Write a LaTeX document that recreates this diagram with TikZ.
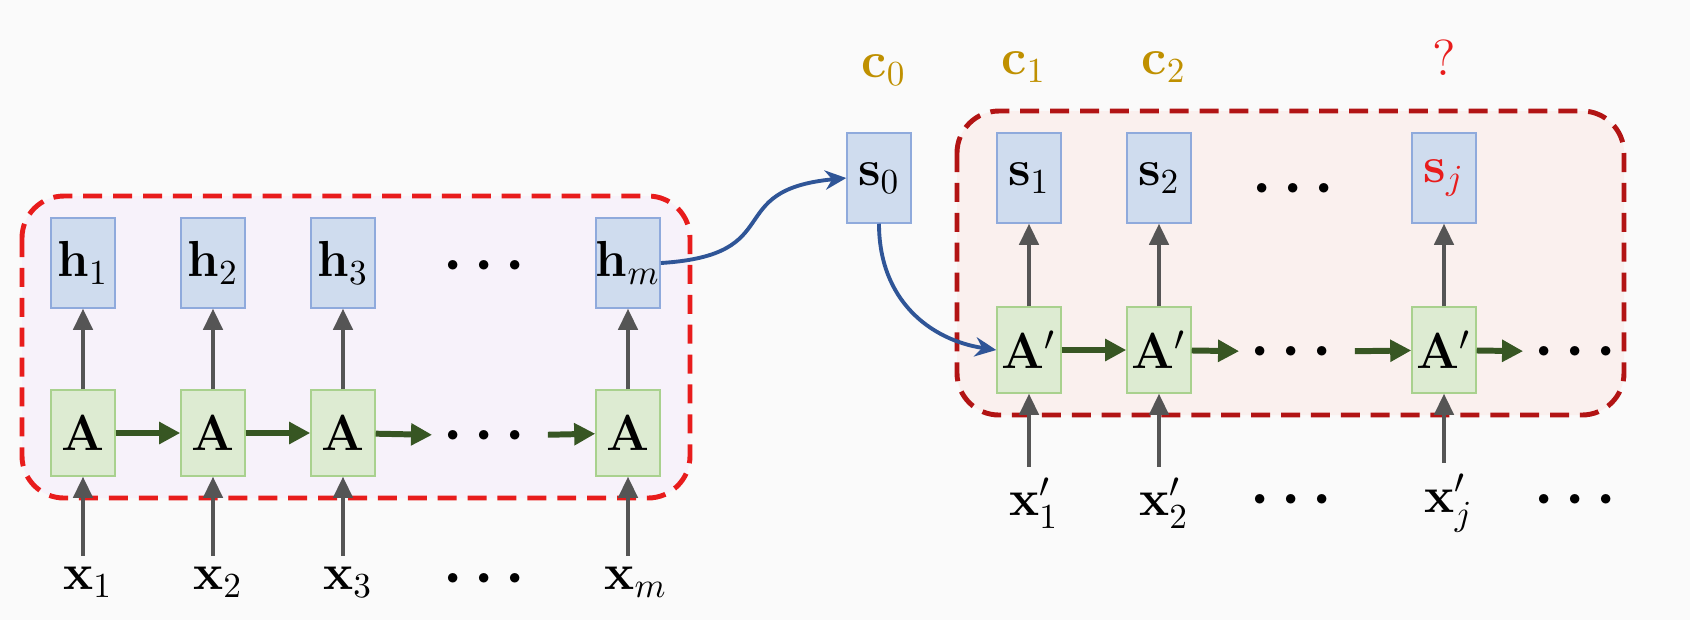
\documentclass[tikz,border=0pt]{standalone}
\usepackage{amsmath}
\usepackage{bm}
\usepackage{tikz}
\usetikzlibrary{arrows.meta,positioning}
\usepackage{xcolor}
\definecolor{bgray}{RGB}{250,250,250}
\definecolor{stblue}{RGB}{207,220,238}
\definecolor{stborder}{RGB}{143,170,220}
\definecolor{cellgreen}{RGB}{221,235,210}
\definecolor{cellborder}{RGB}{169,209,142}
\definecolor{flowgreen}{RGB}{55,86,35}
\definecolor{flowgray}{RGB}{85,85,85}
\definecolor{encred}{RGB}{232,28,28}
\definecolor{decred}{RGB}{178,20,20}
\definecolor{encfill}{RGB}{247,242,250}
\definecolor{decfill}{RGB}{250,240,238}
\definecolor{ctxgold}{RGB}{191,144,0}
\definecolor{linkblue}{RGB}{47,85,151}
\tikzstyle{state} = [rectangle, minimum width=0.64cm, minimum height=0.9cm, inner sep=0pt, draw=stborder, fill=stblue, line width=0.4pt]
\tikzstyle{cell} = [rectangle, minimum width=0.64cm, minimum height=0.86cm, inner sep=0pt, draw=cellborder, fill=cellgreen, line width=0.4pt]
\tikzstyle{inp} = [inner sep=3pt]
\tikzstyle{more} = [font=\LARGE, inner sep=3pt]
\tikzstyle{uparrow} = [-{Triangle[length=6pt,width=5.5pt]}, line width=1pt, color=flowgray]
\tikzstyle{flow} = [-{Triangle[length=6pt,width=6pt]}, line width=1.7pt, color=flowgreen]
\tikzstyle{link} = [-{Stealth[length=6pt,width=5.5pt]}, line width=1.1pt, color=linkblue]
\tikzstyle{group} = [rounded corners=0.42cm, line width=1.4pt, dash pattern=on 5.4pt off 3.1pt]

\begin{document}
\begin{tikzpicture}[x=0.01cm, y=-0.01cm, font=\Large]
\fill[bgray] (0,0) rectangle (1690,620);
\useasboundingbox (0,0) rectangle (1690,620);

% Encoder
\draw[group, draw=encred, fill=encfill] (22,196) rectangle (690,498);
\node (h1) [state] at (83,263) {$\mathbf{h}_1$};
\node (h2) [state] at (213,263) {$\mathbf{h}_2$};
\node (h3) [state] at (343,263) {$\mathbf{h}_3$};
\node (hdots) [more] at (490,266) {$\bm{\cdots}$};
\node (hm) [state] at (628,263) {$\mathbf{h}_m$};

\node (A1) [cell] at (83,433) {$\mathbf{A}$};
\node (A2) [cell] at (213,433) {$\mathbf{A}$};
\node (A3) [cell] at (343,433) {$\mathbf{A}$};
\node (adots) [more] at (490,436) {$\bm{\cdots}$};
\node (Am) [cell] at (628,433) {$\mathbf{A}$};

\node (x1) [inp] at (88,582) {$\mathbf{x}_1$};
\node (x2) [inp] at (218,582) {$\mathbf{x}_2$};
\node (x3) [inp] at (348,582) {$\mathbf{x}_3$};
\node (xdots) [more] at (490,579) {$\bm{\cdots}$};
\node (xm) [inp] at (636,582) {$\mathbf{x}_m$};

\draw[uparrow] (x1.north -| A1) -- (A1);
\draw[uparrow] (x2.north -| A2) -- (A2);
\draw[uparrow] (x3.north -| A3) -- (A3);
\draw[uparrow] (xm.north -| Am) -- (Am);
\draw[uparrow] (A1) -- (h1);
\draw[uparrow] (A2) -- (h2);
\draw[uparrow] (A3) -- (h3);
\draw[uparrow] (Am) -- (hm);

\draw[flow] (A1) -- (A2);
\draw[flow] (A2) -- (A3);
\draw[flow] (A3) -- (adots);
\draw[flow] (adots) -- (Am);

% Decoder
\draw[group, draw=decred, fill=decfill] (957,111) rectangle (1624,415);
\node (s0) [state] at (879,178) {$\mathbf{s}_0$};
\node (s1) [state] at (1029,178) {$\mathbf{s}_1$};
\node (s2) [state] at (1159,178) {$\mathbf{s}_2$};
\node (sdots) [more] at (1299,189) {$\bm{\cdots}$};
\node (sj) [state] at (1444,178) {\color{encred}$\mathbf{s}_j$};

\node (c0) [text=ctxgold] at (884,70) {$\mathbf{c}_0$};
\node (c1) [text=ctxgold] at (1024,67) {$\mathbf{c}_1$};
\node (c2) [text=ctxgold] at (1164,67) {$\mathbf{c}_2$};
\node (qj) [text=encred] at (1444,58) {?};

\node (B1) [cell] at (1029,350) {$\mathbf{A}'$};
\node (B2) [cell] at (1159,350) {$\mathbf{A}'$};
\node (bdots) [more] at (1297,352) {$\bm{\cdots}$};
\node (Bj) [cell] at (1444,350) {$\mathbf{A}'$};
\node (bend) [more] at (1581,352) {$\bm{\cdots}$};

\node (y1) [inp] at (1034,503) {$\mathbf{x}'_1$};
\node (y2) [inp] at (1164,503) {$\mathbf{x}'_2$};
\node (ydots) [more] at (1297,500) {$\bm{\cdots}$};
\node (yj) [inp] at (1449,503) {$\mathbf{x}'_j$};
\node (yend) [more] at (1581,500) {$\bm{\cdots}$};

\draw[uparrow] (y1.north -| B1) -- (B1);
\draw[uparrow] (y2.north -| B2) -- (B2);
\draw[uparrow] (yj.north -| Bj) -- (Bj);
\draw[uparrow] (B1) -- (s1);
\draw[uparrow] (B2) -- (s2);
\draw[uparrow] (Bj) -- (sj);

\draw[flow] (B1) -- (B2);
\draw[flow] (B2) -- (bdots);
\draw[flow] (bdots) -- (Bj);
\draw[flow] (Bj) -- (bend);

% Links
\draw[link] (hm.east) .. controls (790,255) and (720,190) .. (s0.west);
\draw[link] (s0.south) .. controls (879,300) and (930,340) .. (B1.west);
\end{tikzpicture}
\end{document}
